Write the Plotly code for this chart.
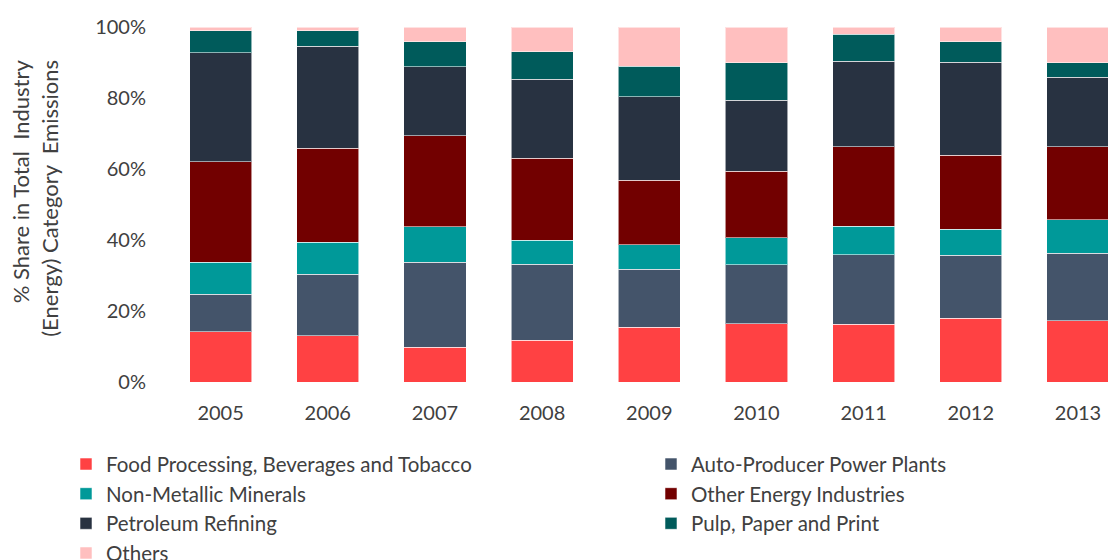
import plotly.graph_objects as go

years = ["2005", "2006", "2007", "2008", "2009", "2010", "2011", "2012", "2013"]

food = [14.1, 13.1, 9.8, 11.7, 15.4, 16.4, 16.2, 17.9, 17.2]
auto_producer = [10.6, 17.3, 23.9, 21.5, 16.4, 16.7, 19.7, 17.8, 19.0]
non_metallic = [9.0, 9.0, 10.0, 6.8, 6.8, 7.5, 8.0, 7.3, 9.5]
other_energy = [28.4, 26.5, 25.6, 23.1, 18.3, 18.7, 22.3, 20.9, 20.6]
petroleum = [30.6, 28.7, 19.5, 22.2, 23.4, 20.1, 24.2, 26.2, 19.6]
pulp_paper = [6.2, 4.3, 7.1, 7.7, 8.7, 10.6, 7.5, 5.8, 4.1]
others = [1.1, 1.1, 4.1, 7.0, 11.0, 10.0, 2.1, 4.1, 10.0]

y_ticks = [0, 20, 40, 60, 80, 100]
y_tick_labels = ["0%", "20%", "40%", "60%", "80%", "100%"]

FONT = "Lato"
TEXT = "#404040"

# (name, values, colour, legend box) in stacking order, bottom to top
series = [
    ("Food Processing, Beverages and Tobacco", food, "#FF4143", "legend"),
    ("Auto-Producer Power Plants", auto_producer, "#44546A", "legend2"),
    ("Non-Metallic Minerals", non_metallic, "#009999", "legend"),
    ("Other Energy Industries", other_energy, "#720000", "legend2"),
    ("Petroleum Refining", petroleum, "#283241", "legend"),
    ("Pulp, Paper and Print", pulp_paper, "#005B5B", "legend2"),
    ("Others", others, "#FFBFBF", "legend"),
]

fig = go.Figure()
for name, vals, color, leg in series:
    fig.add_trace(go.Bar(
        x=years, y=vals, name=name, legend=leg,
        marker=dict(color=color, line=dict(color="rgba(255,255,255,0.55)", width=1)),
    ))

W, H = 1108, 560
left, top, bottom = 167.4, 27.3, 382.0
plot_w = W - left
plot_h = bottom - top


def px_x(x):
    return (x - left) / plot_w


def px_y(y):
    return (bottom - y) / plot_h


legend_font = dict(family=FONT, size=20.5, color=TEXT)

fig.update_layout(
    width=W, height=H,
    barmode="stack", bargap=0.42,
    plot_bgcolor="white", paper_bgcolor="white",
    font=dict(family=FONT, size=20, color=TEXT),
    margin=dict(l=left, r=0, t=top, b=H - bottom, autoexpand=False),
    xaxis=dict(
        type="category", range=[-0.5, 8.28], showgrid=False, showline=False,
        zeroline=False, ticks="", ticklabelstandoff=17,
        tickfont=dict(family=FONT, size=20, color=TEXT),
    ),
    yaxis=dict(
        range=[0, 100], tickmode="array", tickvals=y_ticks, ticktext=y_tick_labels,
        showgrid=False, showline=False, zeroline=False, ticks="", ticklabelstandoff=20,
        tickfont=dict(family=FONT, size=20, color=TEXT),
    ),
    legend=dict(
        xref="container", yref="container", x=66 / W, y=1 - 444.2 / H,
        xanchor="left", yanchor="top", orientation="v", traceorder="normal",
        font=legend_font, bgcolor="rgba(0,0,0,0)",
    ),
    legend2=dict(
        xref="container", yref="container", x=651 / W, y=1 - 444.2 / H,
        xanchor="left", yanchor="top", orientation="v", traceorder="normal",
        font=legend_font, bgcolor="rgba(0,0,0,0)",
    ),
    showlegend=True,
)

# Two-line rotated y-axis title
title_lines = [("% Share in Total\u00a0 Industry", 21), ("(Energy) Category\u00a0 Emissions", 50)]
for text, xc in title_lines:
    fig.add_annotation(
        text=text, textangle=-90, showarrow=False,
        xref="paper", yref="paper", x=px_x(xc), y=px_y(58),
        xanchor="center", yanchor="top",
        font=dict(family=FONT, size=22, color=TEXT),
    )

fig.write_html("out.html")
